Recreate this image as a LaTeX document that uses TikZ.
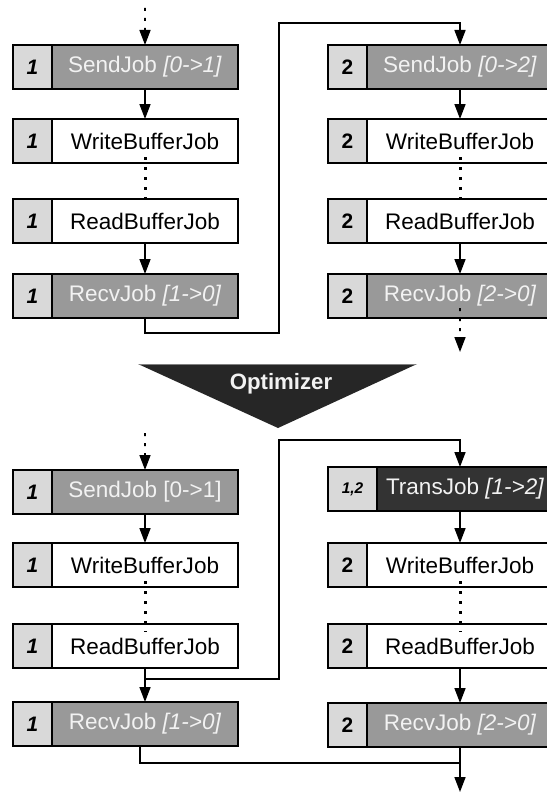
\documentclass[tikz,border=0pt]{standalone}
\usepackage{fontspec}
\setmainfont{Liberation Sans}
\usetikzlibrary{arrows.meta}

\definecolor{numgray}{HTML}{D9D9D9}
\definecolor{commgray}{HTML}{999999}
\definecolor{transgray}{HTML}{333333}
\definecolor{lighttext}{HTML}{F2F2F2}
\definecolor{optfill}{HTML}{262626}

\tikzset{
  cell/.style={draw=black, line width=2bp, minimum height=44bp, inner sep=0pt,
    outer sep=0pt, anchor=north west, font=\fontsize{22.6}{26}\selectfont},
  numcell/.style={cell, fill=numgray, minimum width=39bp,
    font=\fontsize{21}{25}\selectfont\bfseries},
  pairnum/.style={numcell, minimum width=49bp,
    font=\fontsize{15.5}{18}\selectfont\bfseries\itshape},
  plainjob/.style={cell, fill=white, minimum width=186bp},
  commjob/.style={cell, fill=commgray, text=lighttext, minimum width=186bp},
  transjob/.style={cell, fill=transgray, text=lighttext, minimum width=176bp},
  flow/.style={line width=1.6bp, -{Triangle[length=15bp,width=11bp]}},
  link/.style={line width=1.6bp},
  dots/.style={line width=3bp, dash pattern=on 3bp off 7bp},
}

\begin{document}
\begin{tikzpicture}[x=1bp, y=-1bp]
\useasboundingbox (0,0) rectangle (547,792);
\clip (0,0) rectangle (547,792);

% ---------------- before optimization ----------------
% node 1
\node[numcell] (an1) at (13,45)  {\itshape 1};
\node[commjob] (as1) at (52,45)  {SendJob \textit{[0->1]}};
\node[numcell] (an2) at (13,119) {\itshape 1};
\node[plainjob] (aw1) at (52,119) {WriteBufferJob};
\node[numcell] (an3) at (13,199) {\itshape 1};
\node[plainjob] (ar1) at (52,199) {ReadBufferJob};
\node[numcell] (an4) at (13,274) {\itshape 1};
\node[commjob] (ac1) at (52,274) {RecvJob \textit{[1->0]}};
% node 2
\node[numcell] (bn1) at (328,45)  {2};
\node[commjob] (bs2) at (367,45)  {SendJob \textit{[0->2]}};
\node[numcell] (bn2) at (328,119) {2};
\node[plainjob] (bw2) at (367,119) {WriteBufferJob};
\node[numcell] (bn3) at (328,199) {2};
\node[plainjob] (br2) at (367,199) {ReadBufferJob};
\node[numcell] (bn4) at (328,274) {2};
\node[commjob] (bc2) at (367,274) {RecvJob \textit{[2->0]}};

\coordinate (atop) at (145,8);
\coordinate (aend) at (460,352);

\draw[dots, flow] (atop) -- (as1.north);
\draw[flow] (as1.south) -- (aw1.north);
\draw[dots] ([yshift=6bp]aw1.south) -- ([yshift=-8bp]ar1.north);
\draw[flow] (ar1.south) -- (ac1.north);
\draw[flow] (ac1.south) |- (279,333) |- (460,23) -- (bs2.north);
\draw[flow] (bs2.south) -- (bw2.north);
\draw[dots] ([yshift=6bp]bw2.south) -- ([yshift=-8bp]br2.north);
\draw[flow] (br2.south) -- (bc2.north);
\draw[dots, flow] ([yshift=10bp]bc2.south) -- (aend);

% ---------------- optimizer ----------------
\fill[optfill] (138,364) -- (417,364) -- (278,428) -- cycle;
\draw[gray, line width=1bp] (139,364.5) -- (416,364.5);
\node[font=\fontsize{22.3}{26}\selectfont\bfseries, text=lighttext]
  (opt) at (281,384) {Optimizer};

% ---------------- after optimization ----------------
% node 1
\node[numcell] (cn1) at (13,470)  {\itshape 1};
\node[commjob] (cs1) at (52,470)  {SendJob [0->1]};
\node[numcell] (cn2) at (13,543)  {\itshape 1};
\node[plainjob] (cw1) at (52,543) {WriteBufferJob};
\node[numcell] (cn3) at (13,624)  {\itshape 1};
\node[plainjob] (cr1) at (52,624) {ReadBufferJob};
\node[numcell] (cn4) at (13,702)  {\itshape 1};
\node[commjob] (cc1) at (52,702)  {RecvJob \textit{[1->0]}};
% node 2
\node[pairnum] (dn1) at (328,467) {1,2};
\node[transjob] (dt) at (377,467) {TransJob \textit{[1->2]}};
\node[numcell] (dn2) at (328,543) {2};
\node[plainjob] (dw2) at (367,543) {WriteBufferJob};
\node[numcell] (dn3) at (328,624) {2};
\node[plainjob] (dr2) at (367,624) {ReadBufferJob};
\node[numcell] (dn4) at (328,703) {2};
\node[commjob] (dc2) at (367,703) {RecvJob \textit{[2->0]}};

\coordinate (ctop) at (145,433);
\coordinate (join) at (145,679);
\coordinate (tin)  at (460,467);
\coordinate (tout) at (460,511);
\coordinate (cend) at (460,792);

\draw[dots, flow] (ctop) -- (cs1.north);
\draw[flow] (cs1.south) -- (cw1.north);
\draw[dots] ([yshift=6bp]cw1.south) -- ([yshift=-8bp]cr1.north);
\draw[flow] (cr1.south) -- (cc1.north);
\draw[flow] (join) -| (279,440) -| (tin);
\draw[flow] (tout) -- (dw2.north);
\draw[dots] ([yshift=6bp]dw2.south) -- ([yshift=-8bp]dr2.north);
\draw[flow] (dr2.south) -- (dc2.north);
\draw[link] ([xshift=-5bp]cc1.south) |- (dc2.south |- 0,763);
\draw[flow] (dc2.south) -- (cend);
\end{tikzpicture}
\end{document}
